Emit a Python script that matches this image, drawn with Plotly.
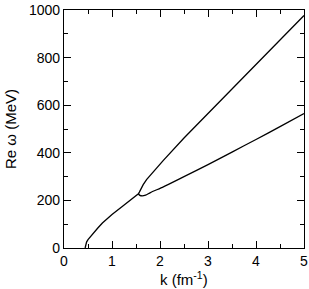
import plotly.graph_objects as go

# Branch 1: threshold curve continuing into upper branch
k_upper = [0.44, 0.45, 0.47, 0.50, 0.55, 0.60, 0.70, 0.80, 0.90, 1.00, 1.20, 1.40, 1.50, 1.55,
           1.57, 1.60, 1.65, 1.72, 1.80, 1.90, 2.00, 2.07, 2.50, 3.00, 3.50, 4.00, 4.50, 5.00]
w_upper = [0, 12, 25, 35, 48, 60, 83, 105, 124, 141, 172, 203, 218, 228,
           235, 248, 266, 287, 306, 330, 352, 368, 462, 566, 669, 772, 874, 977]

# Branch 2: lower branch starting at the junction
k_lower = [1.55, 1.58, 1.63, 1.70, 1.80, 2.07, 2.50, 3.00, 3.50, 4.00, 4.50, 5.00]
w_lower = [228, 221, 219, 222, 233, 257, 300, 350, 403, 456, 510, 565]

x_ticks = [0, 1, 2, 3, 4, 5]
y_ticks = [0, 200, 400, 600, 800, 1000]

FONT = "Liberation Sans, Arial, sans-serif"

fig = go.Figure()
line = dict(color="black", width=1.3)
fig.add_trace(go.Scatter(x=k_upper, y=w_upper, mode="lines", line=line, showlegend=False))
fig.add_trace(go.Scatter(x=k_lower, y=w_lower, mode="lines", line=dict(line, shape="spline", smoothing=0.6), showlegend=False))

axis_common = dict(
    showgrid=False, zeroline=False, showline=True, linecolor="black", linewidth=1.3,
    mirror="allticks", ticks="inside", ticklen=7, tickwidth=1.3, tickcolor="black",
    tickfont=dict(family=FONT, size=14, color="black"), automargin=False,
)

fig.update_xaxes(
    range=[0, 5], tickvals=x_ticks, ticktext=[str(v) for v in x_ticks],
    minor=dict(ticks="inside", ticklen=4, tickwidth=1.3, tickcolor="black", dtick=0.5, showgrid=False),
    **axis_common,
)
fig.update_yaxes(
    range=[0, 1000], tickvals=y_ticks, ticktext=[str(v) for v in y_ticks],
    minor=dict(ticks="inside", ticklen=4, tickwidth=1.3, tickcolor="black", dtick=100, showgrid=False),
    **axis_common,
)

fig.add_annotation(text="k (fm<sup>-1</sup>)", xref="paper", yref="paper", x=0.5, y=0,
                   yshift=-30, xanchor="center", yanchor="middle", showarrow=False,
                   font=dict(family=FONT, size=15, color="black"))
fig.add_annotation(text="Re ω (MeV)", xref="paper", yref="paper", x=0, y=0.5,
                   xshift=-54, xanchor="center", yanchor="middle", textangle=-90, showarrow=False,
                   font=dict(family=FONT, size=15, color="black"))

fig.update_layout(
    width=309, height=289,
    margin=dict(l=64, r=5, t=10, b=41, autoexpand=False),
    paper_bgcolor="white", plot_bgcolor="white",
)

fig.write_html("out.html", config={"displayModeBar": False},
               post_script="document.body.style.margin='0';document.body.style.padding='0';")
